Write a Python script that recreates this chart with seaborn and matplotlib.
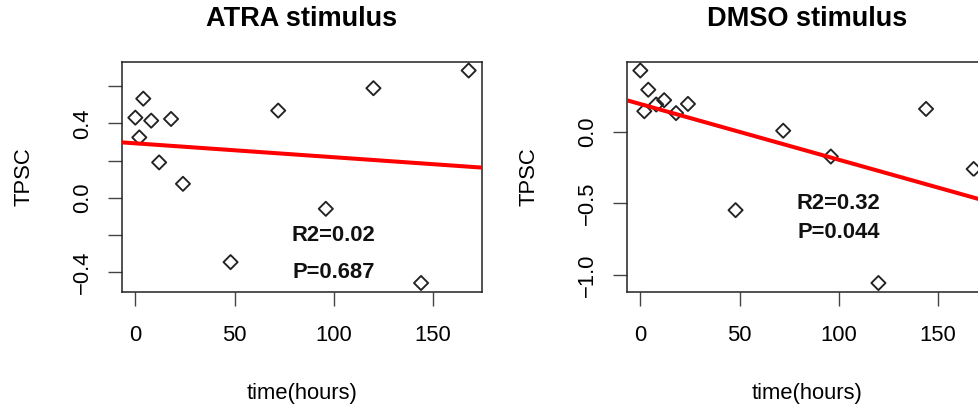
import numpy as np
import pandas as pd
import matplotlib
matplotlib.use("Agg")
import matplotlib.pyplot as plt
import seaborn as sns

# ---- data ----
time_hours = [0, 2, 4, 8, 12, 18, 24, 48, 72, 96, 120, 144, 168]
atra_tpsc = [0.430, 0.324, 0.532, 0.414, 0.190, 0.423, 0.075, -0.345,
             0.468, -0.059, 0.588, -0.457, 0.683]
dmso_tpsc = [0.427, 0.143, 0.293, 0.190, 0.220, 0.130, 0.194, -0.547,
             0.007, -0.173, -1.055, 0.159, -0.260]

titles = ["ATRA stimulus", "DMSO stimulus"]
stats_text = [["R2=0.02", "P=0.687"], ["R2=0.32", "P=0.044"]]
stats_y = [[-0.2, -0.4], [-0.5, -0.7]]
stats_x = 100

x_ticks = [0, 50, 100, 150]
x_ticklabels = ["0", "50", "100", "150"]
y_ticks = [[-0.4, -0.2, 0.0, 0.2, 0.4, 0.6], [-1.0, -0.5, 0.0]]
y_ticklabels = [["\u22120.4", "", "0.0", "", "0.4", ""],
                ["\u22121.0", "\u22120.5", "0.0"]]

sns.set_style("white")
plt.rcParams["font.family"] = ["Liberation Sans", "DejaVu Sans"]
plt.rcParams["text.color"] = "black"
plt.rcParams["axes.labelcolor"] = "black"

W, H = 979, 409
fig = plt.figure(figsize=(W / 100, H / 100), dpi=100)

box_top, box_bottom = 62, 291.5
box_w = 360
lefts = [122, 627]
series = [atra_tpsc, dmso_tpsc]

base_fs = 15.8
dark = "#222222"

for i, (left_px, yvals) in enumerate(zip(lefts, series)):
    ax = fig.add_axes([left_px / W, 1 - box_bottom / H, box_w / W,
                       (box_bottom - box_top) / H])
    df = pd.DataFrame({"time": time_hours, "tpsc": yvals})
    xr = max(time_hours) - min(time_hours)
    ax.set_xlim(min(time_hours) - 0.04 * xr, max(time_hours) + 0.04 * xr)
    sns.regplot(data=df, x="time", y="tpsc", ax=ax, ci=None, truncate=False,
                marker="D",
                scatter_kws=dict(s=52, facecolors="none", edgecolors=dark,
                                 linewidths=1.35, alpha=1, zorder=2),
                line_kws=dict(color="#ff0000", lw=2.9, zorder=3))
    yr = max(yvals) - min(yvals)
    ax.set_ylim(min(yvals) - 0.04 * yr, max(yvals) + 0.04 * yr)

    for sp in ax.spines.values():
        sp.set_visible(True)
        sp.set_color(dark)
        sp.set_linewidth(1.1)

    ax.set_xticks(x_ticks, x_ticklabels)
    ax.set_yticks(y_ticks[i], y_ticklabels[i])
    ax.tick_params(axis="both", direction="out", length=10, width=1.0,
                   color="#444444", labelsize=base_fs, labelcolor="black")
    ax.tick_params(axis="x", pad=14, bottom=True)
    ax.tick_params(axis="y", pad=11, left=True, labelrotation=90)
    for lab in ax.get_yticklabels():
        lab.set_va("center")

    ax.set_xlabel("time(hours)", fontsize=base_fs, color="black")
    ax.xaxis.set_label_coords(0.5, -(393 - box_bottom) / (box_bottom - box_top))
    ax.xaxis.label.set_va("center")
    ax.set_ylabel("TPSC", fontsize=base_fs, color="black")
    ax.yaxis.set_label_coords(-98 / box_w, 0.5)
    ax.yaxis.label.set_va("center")

    ax.set_title(titles[i], fontsize=19.5, fontweight="bold", pad=0,
                 color="black",
                 y=1 + (box_top - 19.5) / (box_bottom - box_top), va="center")

    for txt, yy in zip(stats_text[i], stats_y[i]):
        ax.text(stats_x, yy, txt, ha="center", va="center",
                fontsize=base_fs, fontweight="bold", color="#111111")

fig.savefig("out.png", dpi=100)
